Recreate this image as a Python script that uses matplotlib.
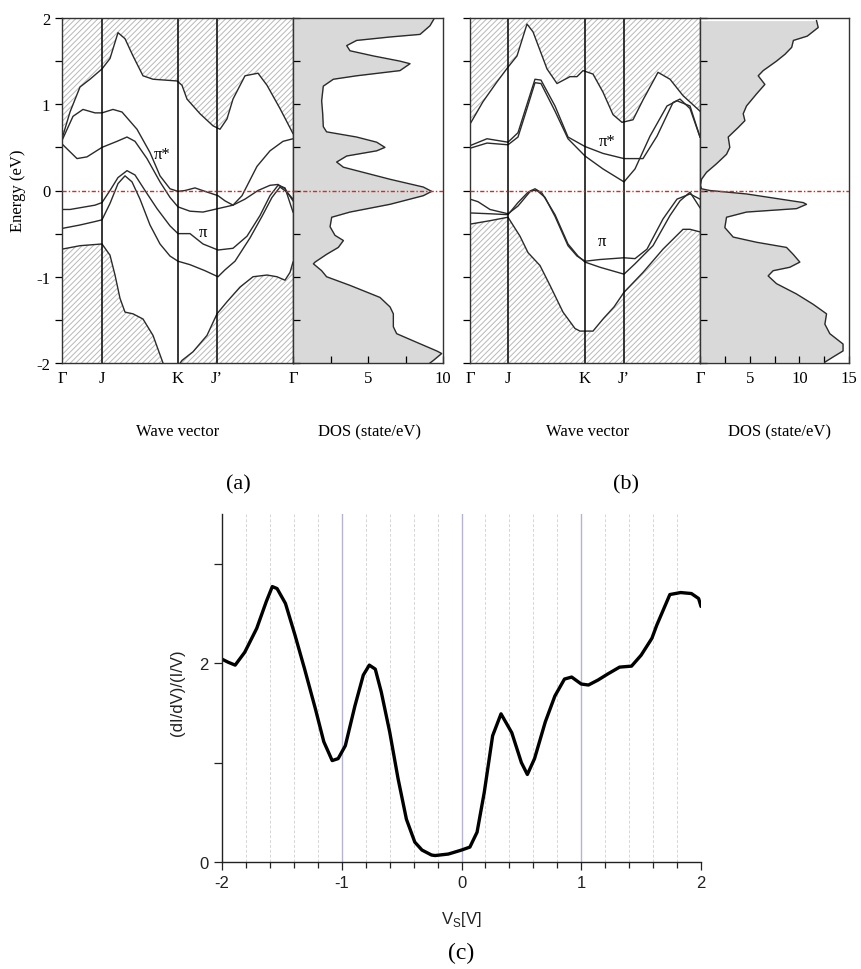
import numpy as np
import matplotlib.pyplot as plt
from matplotlib.ticker import MultipleLocator

plt.rcParams['font.family'] = ['Liberation Serif', 'DejaVu Serif']
plt.rcParams['axes.unicode_minus'] = False
plt.rcParams['hatch.linewidth'] = 0.7
plt.rcParams['mathtext.fontset'] = 'custom'
plt.rcParams['mathtext.rm'] = 'Liberation Sans'

# ---- (a) band structure, k along the path G-J-K-J'-G (arbitrary path units)
nodes_a = [0, 40, 116, 155, 231]
k_top_a = [0, 8, 18, 28, 40, 48, 56, 63, 71, 81, 91, 115, 120, 125, 138, 151, 158, 165, 171, 183, 196, 205, 218, 231]
e_top_a = [0.60, 0.91, 1.20, 1.29, 1.41, 1.53, 1.83, 1.76, 1.56, 1.33, 1.29, 1.27, 1.22, 1.06, 0.89, 0.75, 0.71, 0.83, 1.06, 1.33, 1.36, 1.22, 0.95, 0.66]
k_b2_a = [0, 11, 21, 33, 40, 51, 60, 75, 88, 98, 108, 116, 123, 133, 143, 156, 163, 171, 180, 195, 208, 221, 231]
e_b2_a = [0.58, 0.86, 0.94, 0.90, 0.90, 0.94, 0.91, 0.71, 0.44, 0.17, 0.02, -0.01, 0.0, 0.03, -0.01, -0.06, -0.12, -0.17, -0.06, 0.28, 0.46, 0.57, 0.60]
k_b3_a = [0, 15, 25, 40, 55, 65, 73, 85, 98, 108, 116, 128, 141, 156, 171, 183, 196, 208, 216, 223, 231]
e_b3_a = [0.54, 0.37, 0.39, 0.50, 0.57, 0.62, 0.57, 0.37, 0.10, -0.08, -0.19, -0.24, -0.25, -0.21, -0.17, -0.10, 0.0, 0.06, 0.07, 0.02, -0.12]
k_b4_a = [0, 8, 18, 33, 40, 48, 56, 65, 73, 83, 95, 108, 116, 128, 141, 156, 171, 185, 198, 208, 216, 223, 231]
e_b4_a = [-0.22, -0.22, -0.20, -0.17, -0.14, 0.0, 0.15, 0.23, 0.18, 0.0, -0.21, -0.41, -0.50, -0.50, -0.62, -0.69, -0.67, -0.53, -0.29, -0.06, 0.06, 0.03, -0.25]
k_b5_a = [0, 18, 33, 40, 48, 56, 63, 70, 78, 88, 98, 108, 116, 128, 143, 156, 163, 173, 188, 200, 210, 218, 225, 231]
e_b5_a = [-0.44, -0.40, -0.36, -0.34, -0.15, 0.08, 0.17, 0.10, -0.10, -0.40, -0.62, -0.76, -0.82, -0.86, -0.93, -1.00, -0.92, -0.82, -0.55, -0.30, -0.08, 0.04, -0.02, -0.10]
k_bot_a = [0, 18, 40, 48, 53, 58, 63, 71, 81, 91, 101, 109, 120, 131, 145, 155, 165, 178, 191, 205, 215, 223, 228, 231]
e_bot_a = [-0.68, -0.64, -0.62, -0.75, -0.98, -1.25, -1.41, -1.43, -1.49, -1.68, -2.0, -2.15, -1.97, -1.87, -1.68, -1.43, -1.29, -1.12, -1.0, -0.98, -1.0, -1.04, -0.95, -0.83]

# ---- (a) density of states
dos_a = [9.4, 9.13, 8.47, 6.47, 4.24, 3.58, 3.8, 5.36, 7.13, 7.8, 7.13, 4.24, 2.69, 2.02, 1.91, 1.98, 2.02,
         2.24, 4.24, 5.58, 6.13, 5.58, 3.58, 2.91, 3.36, 6.47, 8.69, 9.24, 8.69, 6.47, 3.8, 2.58, 2.47, 2.8,
         3.36, 3.02, 2.24, 1.47, 1.36, 1.91, 2.24, 3.8, 5.8, 6.47, 6.69, 6.69, 6.91, 8.24, 9.58, 9.91, 9.36, 9.13]
e_dos_a = [1.99, 1.91, 1.81, 1.78, 1.74, 1.68, 1.62, 1.56, 1.50, 1.47, 1.39, 1.33, 1.29, 1.21, 1.04, 0.89, 0.74,
           0.68, 0.62, 0.56, 0.50, 0.46, 0.40, 0.33, 0.27, 0.13, 0.04, -0.01, -0.06, -0.16, -0.25, -0.31, -0.42, -0.52,
           -0.58, -0.66, -0.74, -0.83, -0.85, -0.93, -1.00, -1.10, -1.24, -1.35, -1.43, -1.58, -1.66, -1.76, -1.86, -1.89, -1.97, -2.0]

# ---- (b) band structure
nodes_b = [0, 38, 115, 154, 230]
k_top_b = [0, 13, 27, 38, 47, 57, 63, 77, 87, 100, 107, 113, 123, 133, 143, 152, 163, 173, 188, 200, 213, 230]
e_top_b = [0.77, 1.03, 1.26, 1.43, 1.56, 1.93, 1.84, 1.41, 1.24, 1.32, 1.32, 1.39, 1.35, 1.14, 0.88, 0.79, 0.82, 1.05, 1.37, 1.29, 1.10, 0.92]
k_ps1_b = [0, 17, 38, 48, 57, 65, 71, 85, 98, 115, 133, 154, 173, 187, 203, 210, 220, 230]
e_ps1_b = [0.52, 0.60, 0.56, 0.67, 1.0, 1.29, 1.28, 0.98, 0.62, 0.51, 0.43, 0.37, 0.37, 0.63, 1.02, 1.06, 0.95, 0.62]
k_ps2_b = [0, 17, 38, 48, 57, 65, 71, 85, 98, 115, 133, 154, 165, 180, 197, 207, 220, 230]
e_ps2_b = [0.49, 0.55, 0.53, 0.62, 0.95, 1.25, 1.24, 0.92, 0.60, 0.40, 0.25, 0.10, 0.25, 0.63, 0.98, 1.04, 0.98, 0.62]
k_p1_b = [0, 8, 20, 38, 48, 61, 67, 75, 85, 98, 107, 115, 130, 154, 165, 177, 193, 207, 220, 230]
e_p1_b = [-0.10, -0.13, -0.22, -0.27, -0.18, 0.0, 0.0, -0.08, -0.30, -0.64, -0.76, -0.82, -0.80, -0.78, -0.79, -0.68, -0.33, -0.10, -0.04, -0.10]
k_p2_b = [0, 20, 38, 48, 58, 65, 72, 85, 98, 108, 115, 130, 154, 165, 183, 200, 210, 220, 230]
e_p2_b = [-0.26, -0.27, -0.28, -0.14, -0.02, 0.02, -0.03, -0.28, -0.62, -0.76, -0.83, -0.89, -0.97, -0.85, -0.64, -0.29, -0.12, -0.02, -0.20]
k_bot_b = [0, 20, 38, 50, 58, 70, 80, 93, 105, 110, 123, 133, 144, 154, 173, 193, 213, 220, 230]
e_bot_b = [-0.39, -0.35, -0.31, -0.53, -0.72, -0.87, -1.10, -1.41, -1.60, -1.63, -1.63, -1.49, -1.35, -1.18, -0.95, -0.68, -0.45, -0.45, -0.48]

# ---- (b) density of states
dos_b = [11.73, 11.9, 10.8, 9.4, 9.23, 8.56, 7.7, 6.36, 5.86, 6.53, 5.69, 4.68, 4.35, 4.52, 3.84, 2.84, 3.0,
         2.67, 1.66, 0.65, 0.15, 0.05, 0.15, 0.99, 4.68, 10.39, 10.72, 9.72, 4.68, 2.67, 2.5, 3.34, 5.69, 8.71,
         9.38, 10.05, 9.04, 7.36, 6.86, 7.7, 9.72, 11.4, 12.74, 12.57, 13.07, 14.4, 14.4, 13.4, 12.57]
e_dos_b = [1.97, 1.89, 1.79, 1.74, 1.66, 1.58, 1.50, 1.39, 1.33, 1.23, 1.12, 0.98, 0.89, 0.81, 0.73, 0.62, 0.50,
           0.42, 0.31, 0.21, 0.13, 0.06, 0.02, 0.0, -0.04, -0.14, -0.16, -0.21, -0.25, -0.31, -0.43, -0.54, -0.60, -0.66,
           -0.74, -0.83, -0.89, -0.93, -0.99, -1.08, -1.20, -1.32, -1.43, -1.55, -1.66, -1.78, -1.86, -1.93, -1.99]

# ---- (c) normalized conductance
vs = [-2.0, -1.95, -1.89, -1.81, -1.71, -1.63, -1.58, -1.54, -1.47, -1.39, -1.31, -1.22, -1.15, -1.08, -1.03,
      -0.97, -0.89, -0.82, -0.77, -0.72, -0.67, -0.60, -0.53, -0.46, -0.39, -0.33, -0.25, -0.22, -0.11, 0.0, 0.07,
      0.13, 0.19, 0.26, 0.33, 0.42, 0.50, 0.55, 0.61, 0.70, 0.78, 0.86, 0.92, 1.0, 1.06, 1.14, 1.22, 1.32, 1.42,
      1.50, 1.59, 1.63, 1.74, 1.83, 1.92, 1.98, 2.0]
ndc = [2.04, 2.01, 1.98, 2.11, 2.35, 2.62, 2.77, 2.75, 2.60, 2.28, 1.94, 1.54, 1.21, 1.02, 1.04,
       1.17, 1.57, 1.88, 1.98, 1.94, 1.71, 1.31, 0.84, 0.43, 0.20, 0.12, 0.07, 0.065, 0.08, 0.12, 0.15,
       0.30, 0.70, 1.27, 1.49, 1.30, 1.00, 0.88, 1.04, 1.41, 1.67, 1.84, 1.86, 1.79, 1.78, 1.83, 1.89, 1.96, 1.97,
       2.08, 2.25, 2.38, 2.69, 2.71, 2.70, 2.65, 2.57]

W, H = 861, 970
fig = plt.figure(figsize=(W / 100, H / 100), dpi=100)


def add_px_axes(x0, x1, y0, y1):
    return fig.add_axes([x0 / W, 1 - y1 / H, (x1 - x0) / W, (y1 - y0) / H])


LINE = '#2a2a2a'
HATCH = '#b8b8b8'
FERMI = dict(color='#d42a2a', lw=1.0, ls=(0, (3, 1.5, 1, 1.5)), zorder=5)


def band_panel(ax, nodes, bands, top, bottom, show_labels):
    kt, et = top
    kb, eb = bottom
    ax.fill_between(kt, et, 2.5, facecolor='none', edgecolor=HATCH, hatch='//////', linewidth=0)
    ax.fill_between(kb, -2.5, eb, facecolor='none', edgecolor=HATCH, hatch='//////', linewidth=0)
    for k, e in [top, bottom] + bands:
        ax.plot(k, e, color=LINE, lw=1.0)
    for n in nodes[1:-1]:
        ax.axvline(n, color='k', lw=1.1)
    ax.axhline(0, **FERMI)
    ax.set_xlim(nodes[0], nodes[-1])
    ax.set_ylim(-2, 2)
    ax.set_xticks(nodes)
    ax.set_xticklabels(['Γ', 'J', 'K', 'J’', 'Γ'])
    ax.tick_params(axis='x', length=0, pad=5, labelsize=12)
    ax.yaxis.set_major_locator(MultipleLocator(1))
    ax.yaxis.set_minor_locator(MultipleLocator(0.5))
    ax.tick_params(axis='y', which='both', direction='out', length=5, width=0.9,
                   labelsize=12, labelleft=show_labels)
    for s in ax.spines.values():
        s.set_linewidth(1.0)
        s.set_color('#333333')


def dos_panel(ax, dos, e, xmax):
    ax.fill_betweenx(e, 0, dos, color='#d9d9d9', lw=0)
    ax.plot(dos, e, color=LINE, lw=1.0)
    ax.axhline(0, **FERMI)
    ax.set_xlim(0, xmax)
    ax.set_ylim(-2, 2)
    ax.set_xticks(np.arange(5, xmax + 1, 5))
    ax.xaxis.set_minor_locator(MultipleLocator(2.5))
    ax.yaxis.set_major_locator(MultipleLocator(0.5))
    ax.tick_params(axis='x', which='both', direction='in', length=5, width=0.9, labelsize=12, pad=5)
    ax.tick_params(axis='y', which='both', direction='in', length=5, width=0.9, labelleft=False)
    for s in ax.spines.values():
        s.set_linewidth(1.0)
        s.set_color('#333333')


axa = add_px_axes(62, 293, 19, 364)
axa_dos = add_px_axes(293, 443, 19, 364)
axb = add_px_axes(470, 700, 19, 364)
axb_dos = add_px_axes(700, 849, 19, 364)

band_panel(axa, nodes_a,
           [(k_b2_a, e_b2_a), (k_b3_a, e_b3_a), (k_b4_a, e_b4_a), (k_b5_a, e_b5_a)],
           (k_top_a, e_top_a), (k_bot_a, e_bot_a), True)
band_panel(axb, nodes_b,
           [(k_ps1_b, e_ps1_b), (k_ps2_b, e_ps2_b), (k_p1_b, e_p1_b), (k_p2_b, e_p2_b)],
           (k_top_b, e_top_b), (k_bot_b, e_bot_b), False)
dos_panel(axa_dos, dos_a, e_dos_a, 10)
dos_panel(axb_dos, dos_b, e_dos_b, 15)

axa.text(100, 0.42, 'π*', fontsize=12, ha='center', va='center')
axa.text(141, -0.48, 'π', fontsize=12, ha='center', va='center')
axb.text(137, 0.57, 'π*', fontsize=12, ha='center', va='center')
axb.text(132, -0.58, 'π', fontsize=12, ha='center', va='center')

fig.text(18 / W, 1 - 191 / H, 'Energy (eV)', rotation=90, fontsize=12, ha='center', va='center')
for x, txt in [(178, 'Wave vector'), (370, 'DOS (state/eV)'), (588, 'Wave vector'), (780, 'DOS (state/eV)')]:
    fig.text(x / W, 1 - 432 / H, txt, fontsize=12, ha='center', va='center')
fig.text(238 / W, 1 - 485 / H, '(a)', fontsize=16, ha='center', va='center')
fig.text(626 / W, 1 - 485 / H, '(b)', fontsize=16, ha='center', va='center')

# ---- (c)
axc = add_px_axes(222, 701, 515, 863)
for x in np.round(np.arange(-1.8, 2.0, 0.2), 1):
    if abs(x - round(x)) < 1e-6:
        axc.axvline(x, color='#b4b4d2', lw=1.0, zorder=0)
    else:
        axc.axvline(x, color='#d6d6d6', lw=0.7, ls=(0, (3, 2)), zorder=0)
axc.plot(vs, ndc, color='k', lw=2.4, solid_joinstyle='round', solid_capstyle='round')
axc.set_xlim(-2, 2)
axc.set_ylim(0, 3.5)
axc.spines['top'].set_visible(False)
axc.spines['right'].set_visible(False)
for s in ('left', 'bottom'):
    axc.spines[s].set_color('#222222')
    axc.spines[s].set_linewidth(1.0)
axc.set_xticks([-2, -1, 0, 1, 2])
axc.set_xticklabels(['-2', '-1', '0', '1', '2'], fontfamily='Liberation Sans')
axc.xaxis.set_minor_locator(MultipleLocator(0.2))
axc.set_yticks([0, 1, 2, 3])
axc.set_yticklabels(['0', '', '2', ''], fontfamily='Liberation Sans')
axc.tick_params(which='both', direction='out', width=0.9, labelsize=12, colors='#222222')
axc.tick_params(which='major', length=6)
axc.tick_params(which='minor', length=4)
fig.text(177 / W, 1 - 693 / H, '(dI/dV)/(I/V)', rotation=90, fontsize=12,
         family='Liberation Sans', ha='center', va='center', color='#222222')
fig.text(461 / W, 1 - 920 / H, r'V$_\mathrm{S}$[V]', fontsize=12,
         family='Liberation Sans', ha='center', va='center', color='#222222')
fig.text(461 / W, 1 - 953 / H, '(c)', fontsize=17, ha='center', va='center')

fig.savefig('out.png', dpi=100)
